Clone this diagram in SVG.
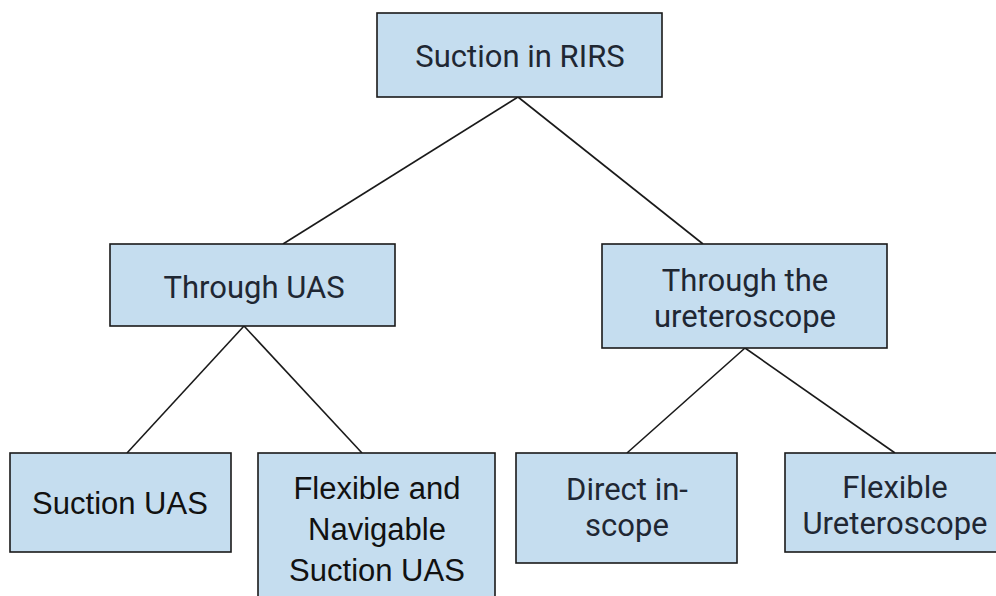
<svg xmlns="http://www.w3.org/2000/svg" width="996" height="596" viewBox="0 0 996 596">
<style>
.box{fill:#c5ddef;stroke:#1a1a1a;stroke-width:1.6}
.t{font-family:Roboto,"Liberation Sans",sans-serif;font-size:31px;fill:#1f2733;text-anchor:middle}
.a{font-family:"Liberation Sans",Arial,sans-serif;font-size:31px;fill:#111;text-anchor:middle}
.c{stroke:#1a1a1a;stroke-width:1.6;fill:none}
</style>
<rect width="996" height="596" fill="#fff"/>
<g id="connectors">
<line class="c" x1="518" y1="97" x2="283" y2="244"/>
<line class="c" x1="518" y1="97" x2="703" y2="244"/>
<line class="c" x1="244" y1="326" x2="127" y2="453"/>
<line class="c" x1="244" y1="326" x2="362" y2="453"/>
<line class="c" x1="745" y1="348" x2="627" y2="453"/>
<line class="c" x1="745" y1="348" x2="895" y2="453"/>
</g>
<g id="root">
<rect class="box" x="377" y="13" width="285" height="84"/>
<text class="t" x="520" y="67">Suction in RIRS</text>
</g>
<g id="through-uas">
<rect class="box" x="110" y="244" width="285" height="82"/>
<text class="t" x="254" y="298">Through UAS</text>
</g>
<g id="through-ureteroscope">
<rect class="box" x="602" y="244" width="285" height="104"/>
<text class="t" x="745" y="291">Through the</text>
<text class="t" x="745" y="327">ureteroscope</text>
</g>
<g id="suction-uas">
<rect class="box" x="10" y="453" width="221" height="99"/>
<text class="a" x="120" y="514">Suction UAS</text>
</g>
<g id="flexible-navigable">
<rect class="box" x="258" y="453" width="237" height="160"/>
<text class="a" x="377" y="499">Flexible and</text>
<text class="a" x="377" y="540">Navigable</text>
<text class="a" x="377" y="581">Suction UAS</text>
</g>
<g id="direct-in-scope">
<rect class="box" x="516" y="453" width="221" height="110"/>
<text class="t" x="627" y="500">Direct in-</text>
<text class="t" x="627" y="536">scope</text>
</g>
<g id="flexible-ureteroscope">
<rect class="box" x="785" y="453" width="220" height="99"/>
<text class="t" x="895" y="498">Flexible</text>
<text class="t" x="895" y="534">Ureteroscope</text>
</g>
</svg>
